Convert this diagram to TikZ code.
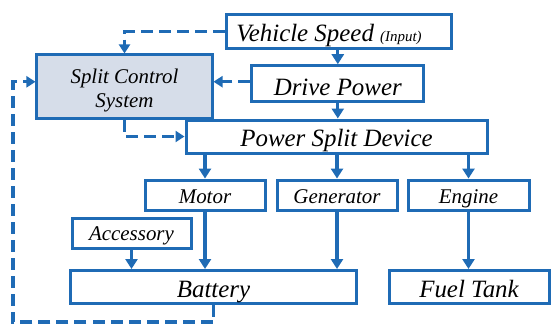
\documentclass[tikz,border=0pt]{standalone}
\usepackage{fontspec}
\setmainfont{Liberation Serif}
\usetikzlibrary{arrows.meta}
\definecolor{flowblue}{HTML}{1F6BB5}
\definecolor{ctrlfill}{HTML}{D6DDE9}

\begin{document}
\begin{tikzpicture}[x=1bp,y=-1bp,
  blk/.style={draw=flowblue,line width=3bp,minimum height=33bp,inner sep=0pt,
    text height=20bp,text depth=0pt,font=\itshape\fontsize{25}{28}\selectfont},
  sblk/.style={blk,minimum height=30.5bp,text height=15.5bp,
    font=\itshape\fontsize{21}{24}\selectfont},
  flow/.style={flowblue,line width=3.3bp,-{Triangle[length=10bp,width=12bp]}},
  sig/.style={flow,dash pattern=on 12bp off 6bp,-{Triangle[length=9bp,width=11bp]}}]
\useasboundingbox (0,0) rectangle (552,325);
% boxes
\node[blk,minimum width=225bp,minimum height=34bp] (speed) at (338.5,31.7)
  {Vehicle Speed {\fontsize{15}{17}\selectfont(Input)}\hspace*{19bp}};
\node[blk,minimum width=172bp,minimum height=36bp,text height=22.6bp] (drive)
  at (337.8,83.7) {Drive Power};
\node[sblk,fill=ctrlfill,minimum width=175bp,minimum height=63.7bp,align=center,
  text height=40.4bp,text depth=0pt] (split) at (124.5,86.8) {Split Control\\System};
\node[blk,minimum width=301bp] (psd) at (336.5,136.5) {Power Split Device};
\node[sblk,minimum width=120bp] (motor) at (205,195.3) {Motor};
\node[sblk,minimum width=120bp] (gen) at (337,195.3) {Generator};
\node[sblk,minimum width=121bp] (engine) at (468.5,195.3) {Engine};
\node[sblk,minimum width=119bp,minimum height=30bp] (acc) at (131.5,233) {Accessory};
\node[blk,minimum width=285bp] (battery) at (213.5,287) {Battery};
\node[blk,minimum width=160bp] (tank) at (469,287) {Fuel Tank};
% power flow
\draw[flow] (speed.south -| drive.north) -- (drive.north);
\draw[flow] (drive.south) -- (drive.south |- psd.north);
\draw[flow] (psd.south -| motor.north) -- (motor.north);
\draw[flow] (psd.south -| gen.north) -- (gen.north);
\draw[flow] (psd.south -| engine.north) -- (engine.north);
\draw[flow] (motor.south) -- (motor.south |- battery.north);
\draw[flow] (gen.south) -- (gen.south |- battery.north);
\draw[flow] (acc.south) -- (acc.south |- battery.north);
\draw[flow] (engine.south) -- (engine.south |- tank.north);
% control signals
\draw[sig] (speed.west) -| (split.north);
\draw[sig] ([yshift=2bp]drive.west) -- ([yshift=2bp]drive.west -| split.east);
\draw[sig] (split.south) |- (psd.west);
\coordinate (loop) at (13,322);
\draw[sig] (battery.south) |- (loop) |- ([yshift=5bp]split.west);
\end{tikzpicture}
\end{document}
